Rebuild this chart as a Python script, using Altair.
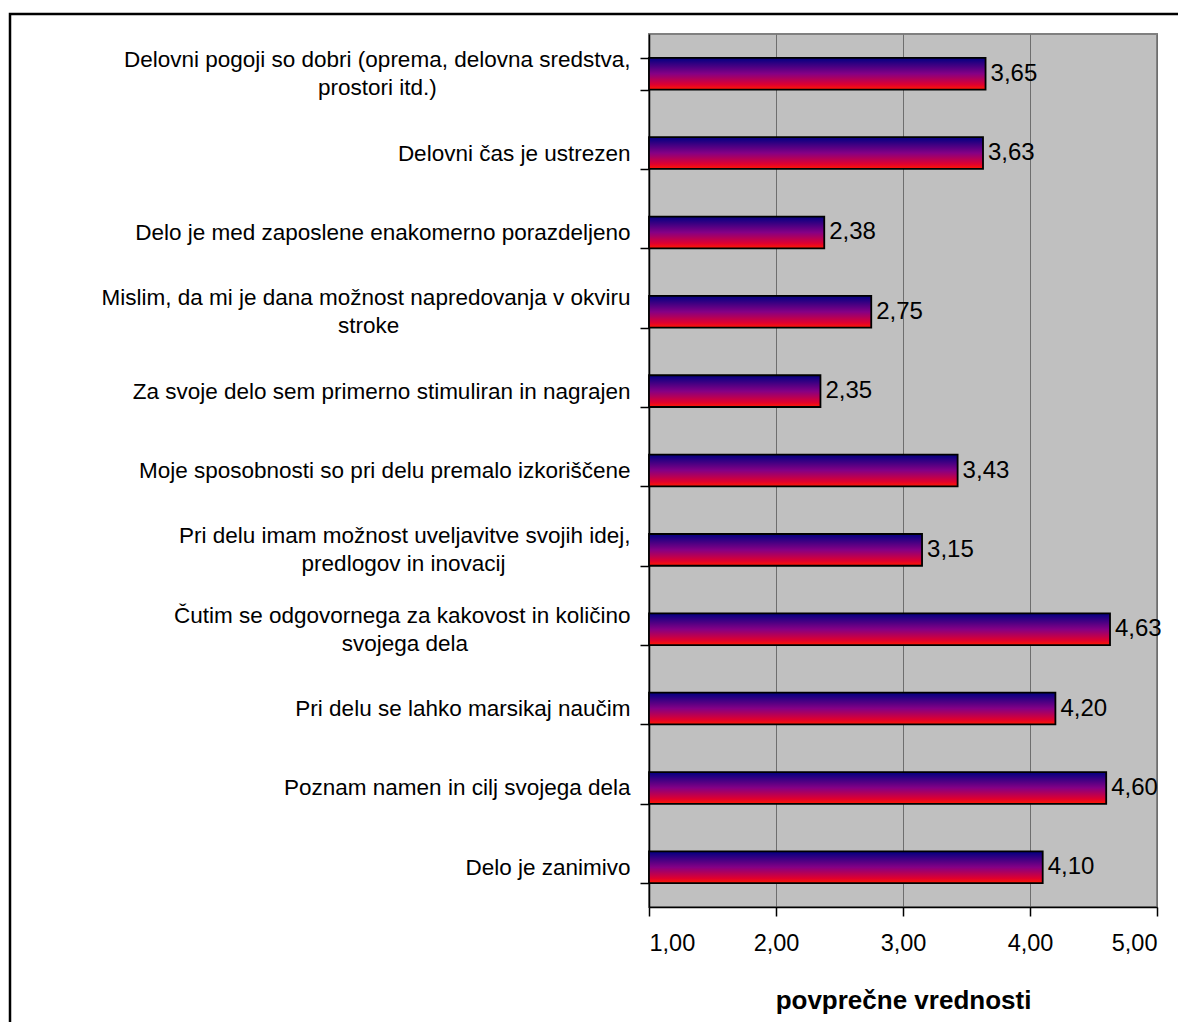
import altair as alt
import pandas as pd

# Category labels ("|" marks a line break as in the original)
categories = [
    "Delovni pogoji so dobri (oprema, delovna sredstva,|prostori itd.)",
    "Delovni čas je ustrezen",
    "Delo je med zaposlene enakomerno porazdeljeno",
    "Mislim, da mi je dana možnost napredovanja v okviru|stroke",
    "Za svoje delo sem primerno stimuliran in nagrajen",
    "Moje sposobnosti so pri delu premalo izkoriščene",
    "Pri delu imam možnost uveljavitve svojih idej,|predlogov in inovacij",
    "Čutim se odgovornega za kakovost in količino|svojega dela",
    "Pri delu se lahko marsikaj naučim",
    "Poznam namen in cilj svojega dela",
    "Delo je zanimivo",
]
values = [3.65, 3.63, 2.38, 2.75, 2.35, 3.43, 3.15, 4.63, 4.20, 4.60, 4.10]
x_ticks = [1, 2, 3, 4, 5]
x_title = "povprečne vrednosti"

# Arial / Liberation Sans advance widths (1/1000 em), used only to centre the
# second line of a wrapped label under the first (as Excel does).
W = {" ": 278, ",": 278, ".": 278, "(": 333, ")": 333,
     "a": 556, "b": 556, "c": 500, "d": 556, "e": 556, "f": 278, "g": 556,
     "h": 556, "i": 222, "j": 222, "k": 500, "l": 222, "m": 833, "n": 556,
     "o": 556, "p": 556, "q": 556, "r": 333, "s": 500, "t": 278, "u": 556,
     "v": 500, "w": 722, "x": 500, "y": 500, "z": 500,
     "č": 500, "š": 500, "ž": 500, "Č": 722, "D": 722, "M": 833, "P": 667, "Z": 611}


def width(s):
    return sum(W.get(ch, 556) for ch in s)


def display_label(s):
    parts = s.split("|")
    if len(parts) == 1:
        return s
    w1, w2 = width(parts[0]), width(parts[1])
    n = round((w1 - w2) / 2 / 278)
    # trailing no-break spaces, closed by a zero-width joiner so they are not trimmed
    return parts[0] + "|" + parts[1] + "\u00a0" * n + "\u200d"


labels = [display_label(c) for c in categories]

df = pd.DataFrame({"cat": labels, "value": values})

FONT = "Liberation Sans"

y_enc = alt.Y(
    "cat:N",
    sort=labels,
    scale=alt.Scale(paddingInner=0.6, paddingOuter=0.3),
    axis=alt.Axis(
        title=None,
        labelExpr="split(datum.label, '|')",
        labelAlign="right",
        labelFont=FONT,
        labelFontSize=22.5,
        labelColor="black",
        labelLineHeight=28,
        labelPadding=10,
        labelLimit=0,
        labelOffset=alt.ConditionalAxisNumber(
            condition={"test": "indexof(datum.label, '|') >= 0", "value": -14},
            value=0,
        ),
        tickBand="extent",
        tickSize=9,
        tickColor="black",
        tickWidth=1.5,
        domainColor="black",
        domainWidth=1.5,
        grid=False,
    ),
)

x_scale = alt.Scale(domain=[1, 5], nice=False, zero=False)

gradient = alt.Gradient(
    gradient="linear",
    x1=0, x2=0, y1=0, y2=1,
    stops=[
        alt.GradientStop(offset=0, color="#000080"),
        alt.GradientStop(offset=0.5, color="#850085"),
        alt.GradientStop(offset=0.85, color="#E0002E"),
        alt.GradientStop(offset=1, color="#FF1A00"),
    ],
)

bars = alt.Chart(df).mark_bar(
    fill=gradient, stroke="black", strokeWidth=1.8
).encode(
    y=y_enc,
    x=alt.X(
        "value:Q",
        scale=x_scale,
        axis=alt.Axis(
            values=x_ticks,
            labelExpr="replace(format(datum.value, '.2f'), '.', ',')",
            labelFont=FONT,
            labelFontSize=23.5,
            labelColor="black",
            labelPadding=15,
            tickSize=9,
            tickColor="black",
            tickWidth=1.5,
            domainColor="black",
            domainWidth=1.5,
            grid=True,
            gridColor="#6E6E6E",
            gridWidth=1,
            title=x_title,
            titleFont=FONT,
            titleFontSize=26,
            titleFontWeight="bold",
            titleColor="black",
            titlePadding=33,
        ),
    ),
    x2=alt.datum(1),
)

text = alt.Chart(df).transform_calculate(
    lbl="replace(format(datum.value, '.2f'), '.', ',')"
).mark_text(
    align="left", baseline="middle", dx=5, font=FONT, fontSize=24, color="black"
).encode(
    y=alt.Y("cat:N", sort=labels),
    x=alt.X("value:Q", scale=x_scale),
    text="lbl:N",
)

frame = alt.Chart(alt.Data(values=[{"a": 1}])).mark_rect(
    fill=None, stroke="black", strokeWidth=2.5, clip=False
).encode(
    x=alt.value(-639),
    x2=alt.value(560),
    y=alt.value(-20),
    y2=alt.value(1100),
)

chart = alt.layer(frame, bars, text).properties(
    width=508,
    height=873,
    autosize=alt.AutoSizeParams(type="none"),
    padding={"left": 641, "top": 26, "right": 21, "bottom": 115},
).configure_view(
    fill="#C0C0C0", stroke="#808080", strokeWidth=2
)

chart.save("out.html", embed_options={"renderer": "svg", "actions": False})
